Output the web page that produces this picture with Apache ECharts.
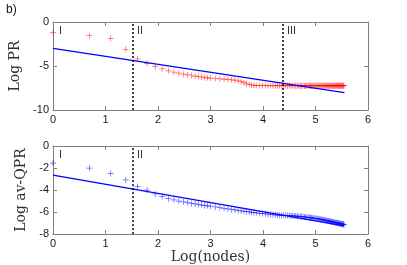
<!DOCTYPE html>
<html><head><meta charset="utf-8">
<script src="https://cdn.jsdelivr.net/npm/echarts@6/dist/echarts.min.js"></script>
<style>html,body{margin:0;padding:0;background:#fff}#c{width:407px;height:265px}</style>
</head><body><div id="c"></div>
<script>
// number of nodes (x axis is Log(nodes))
const nodes = [1,2,3,4,5,6,7,8,9,10,11,12,13,14,15,16,17,18,19,20,
  22,24,26,28,30,32,34,36,38,40,42,44,46,48,
  51,54,57,60,63,66,69,72,75,78,81,84,87,90,93,96,99,102,105,108,111,114,117,120,
  123,126,129,132,135,138,141,144,147,150,153,156,159,162,165,168,171,174,177,180,
  183,186,189,192,195,198,201,204,207,210,213,216,219,222,225,228,231,234,237,240,
  243,246,249,252,255];
// Log PR (top panel, red)
const logPR = [-1.2,-1.55,-1.85,-3.1,-4.2,-4.7,-5.08,-5.32,-5.55,-5.7,-5.82,-5.93,-6.02,-6.08,-6.14,-6.2,-6.25,-6.3,-6.34,-6.37,
  -6.43,-6.46,-6.5,-6.53,-6.57,-6.61,-6.68,-6.78,-6.9,-7.02,-7.1,-7.15,-7.19,-7.21,
  -7.22,-7.24,-7.23,-7.22,-7.25,-7.23,-7.24,-7.26,-7.23,-7.25,-7.22,-7.24,-7.27,-7.23,-7.25,-7.24,-7.22,-7.26,-7.24,-7.23,-7.25,-7.27,-7.22,-7.24,
  -7.26,-7.23,-7.25,-7.21,-7.24,-7.27,-7.23,-7.25,-7.24,-7.22,-7.26,-7.24,-7.23,-7.27,-7.25,-7.22,-7.24,-7.26,-7.23,-7.25,
  -7.24,-7.22,-7.27,-7.24,-7.25,-7.23,-7.26,-7.22,-7.25,-7.24,-7.27,-7.23,-7.25,-7.22,-7.26,-7.24,-7.23,-7.27,-7.25,-7.24,
  -7.22,-7.26,-7.24,-7.25,-7.24];
// Log av-QPR (bottom panel, blue)
const logQPR = [-1.55,-2.0,-2.5,-3.08,-3.67,-4.0,-4.36,-4.59,-4.78,-4.89,-5.0,-5.08,-5.15,-5.21,-5.26,-5.31,-5.36,-5.4,-5.43,-5.46,
  -5.53,-5.6,-5.66,-5.71,-5.76,-5.81,-5.86,-5.89,-5.93,-5.96,-5.99,-6.02,-6.04,-6.07,
  -6.11,-6.14,-6.16,-6.19,-6.22,-6.24,-6.25,-6.27,-6.28,-6.29,-6.29,-6.3,-6.31,-6.32,-6.33,-6.34,-6.35,-6.36,-6.37,-6.39,-6.4,-6.41,-6.43,-6.44,
  -6.46,-6.47,-6.48,-6.49,-6.51,-6.52,-6.54,-6.55,-6.57,-6.58,-6.6,-6.61,-6.63,-6.65,-6.67,-6.68,-6.7,-6.72,-6.74,-6.75,
  -6.77,-6.79,-6.8,-6.82,-6.83,-6.86,-6.87,-6.89,-6.9,-6.92,-6.93,-6.96,-6.97,-6.98,-6.99,-7.0,-7.01,-7.04,-7.05,-7.06,
  -7.07,-7.09,-7.1,-7.11,-7.12];
// linear fits (endpoints)
const fitX = [0, 5.55];
const fitPR = [-3.0, -8.03];
const fitQPR = [-2.64, -7.26];
// regime boundaries
const boundsPR = [1.52, 4.37];
const boundsQPR = [1.52];

const plus = 'path://M4.4,0H5.6V4.4H10V5.6H5.6V10H4.4V5.6H0V4.4H4.4Z';
const axisGray = '#808080';
const tickFont = {fontFamily:'Liberation Sans, Arial, sans-serif', fontSize:11, color:'#1a1a1a'};
const serif = 'DejaVu Serif, serif';

function xAx(grid, pos, labels, name){
  return {type:'value', gridIndex:grid, position:pos, min:0, max:6, interval:1,
    axisLine:{show:true, onZero:false, lineStyle:{color:axisGray, width:1}},
    axisTick:{show:true, inside:true, length:4, lineStyle:{color:axisGray}},
    axisLabel:Object.assign({show:labels, margin:4}, tickFont),
    splitLine:{show:false},
    name: name||'', nameLocation:'middle', nameGap:15,
    nameTextStyle:{fontFamily:serif, fontSize:14, color:'#333'}};
}
function yAx(grid, pos, labels, min, interval, name){
  return {type:'value', gridIndex:grid, position:pos, min:min, max:0, interval:interval,
    axisLine:{show:true, onZero:false, lineStyle:{color:axisGray, width:1}},
    axisTick:{show:true, inside:true, length:4, lineStyle:{color:axisGray}},
    axisLabel:Object.assign({show:labels, margin:4}, tickFont),
    splitLine:{show:false},
    name: name||'', nameLocation:'middle', nameGap:23, nameRotate:90,
    nameTextStyle:{fontFamily:serif, fontSize:14, color:'#333'}};
}

const prPts = nodes.map((n,i)=>[Math.log(n), logPR[i]]);
const qprPts = nodes.map((n,i)=>[Math.log(n), logQPR[i]]);

const chart = echarts.init(document.getElementById('c'), null, {renderer:'canvas'});
chart.setOption({
  animation:false,
  grid:[{left:53, right:39, top:22, height:88},{left:53, right:39, top:146, height:90}],
  xAxis:[xAx(0,'bottom',true), xAx(0,'top',false), xAx(1,'bottom',true,'Log(nodes)'), xAx(1,'top',false)],
  yAxis:[yAx(0,'left',true,-10,5,'Log PR'), yAx(0,'right',false,-10,5), yAx(1,'left',true,-8,2,'Log av-QPR'), yAx(1,'right',false,-8,2)],
  series:[
    {type:'scatter', xAxisIndex:0, yAxisIndex:0, data:prPts, symbol:plus, symbolSize:6,
      itemStyle:{color:'rgba(255,0,0,0.8)'},
      markLine:{silent:true, symbol:'none', label:{show:false},
        lineStyle:{color:'#000', type:[2,2], width:1.5},
        data:boundsPR.map(v=>({xAxis:v}))}},
    {type:'line', xAxisIndex:0, yAxisIndex:0, data:fitX.map((x,i)=>[x,fitPR[i]]), showSymbol:false,
      lineStyle:{color:'#0000ff', width:1.3}},
    {type:'scatter', xAxisIndex:2, yAxisIndex:2, data:qprPts, symbol:plus, symbolSize:6,
      itemStyle:{color:'rgba(0,0,255,0.8)'},
      markLine:{silent:true, symbol:'none', label:{show:false},
        lineStyle:{color:'#000', type:[2,2], width:1.5},
        data:boundsQPR.map(v=>({xAxis:v}))}},
    {type:'line', xAxisIndex:2, yAxisIndex:2, data:fitX.map((x,i)=>[x,fitQPR[i]]), showSymbol:false,
      lineStyle:{color:'#0000ff', width:1.3}}
  ],
  graphic:[
    {type:'text', left:6, top:4, style:{text:'b)', font:'12px Liberation Sans, Arial, sans-serif', fill:'#111'}},
    {type:'text', left:59, top:25, style:{text:'I', font:'11px Liberation Sans, Arial, sans-serif', fill:'#333'}},
    {type:'text', left:137, top:25, style:{text:'II', font:'11px Liberation Sans, Arial, sans-serif', fill:'#333'}},
    {type:'text', left:287, top:25, style:{text:'III', font:'11px Liberation Sans, Arial, sans-serif', fill:'#333'}},
    {type:'text', left:59, top:149, style:{text:'I', font:'11px Liberation Sans, Arial, sans-serif', fill:'#333'}},
    {type:'text', left:137, top:149, style:{text:'II', font:'11px Liberation Sans, Arial, sans-serif', fill:'#333'}}
  ]
});
</script></body></html>
